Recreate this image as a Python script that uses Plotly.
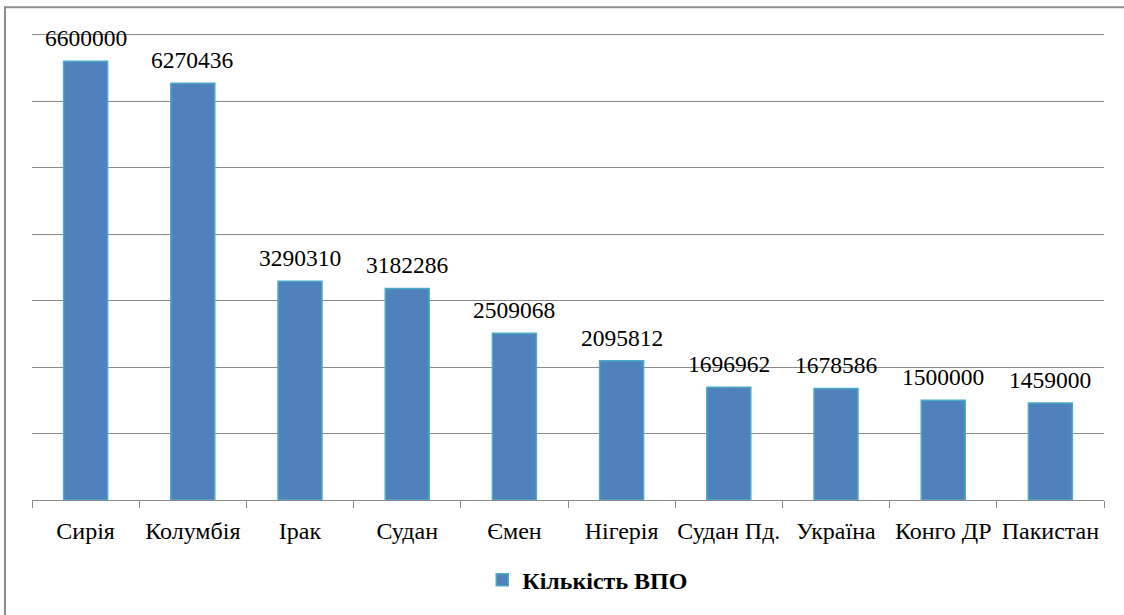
import plotly.graph_objects as go

# Internally displaced persons by country
countries = ["Сирія", "Колумбія", "Ірак", "Судан", "Ємен", "Нігерія",
             "Судан Пд.", "Україна", "Конго ДР", "Пакистан"]
idp_counts = [6600000, 6270436, 3290310, 3182286, 2509068, 2095812,
              1696962, 1678586, 1500000, 1459000]
series_name = "Кількість ВПО"

FONT = "Liberation Serif"
GRID = "#8a8a8a"

fig = go.Figure()
fig.add_trace(go.Bar(
    x=countries,
    y=idp_counts,
    name=series_name,
    width=0.41,
    marker=dict(color="#4F81BD", line=dict(color="#4BACC6", width=1.5)),
))

# value labels above each bar
for c, v in zip(countries, idp_counts):
    fig.add_annotation(
        x=c, y=v, text=str(v), showarrow=False,
        yanchor="bottom", yshift=8,
        font=dict(family=FONT, size=23.5, color="black"),
    )

# outer chart frame
fig.add_shape(
    type="rect", xref="paper", yref="paper",
    x0=-0.0252, x1=1.2, y0=-0.5, y1=1.0441,
    line=dict(color="#8c8c8c", width=2), layer="below",
)

fig.update_layout(
    width=1124, height=615,
    margin=dict(l=32, r=20, t=28, b=111, pad=0),
    paper_bgcolor="white", plot_bgcolor="white",
    font=dict(family=FONT, size=24, color="black"),
    showlegend=True,
    legend=dict(
        orientation="h", x=0.42, xanchor="left", y=-0.170, yanchor="middle",
        font=dict(family=FONT, size=24, color="black", weight="bold"),
        bgcolor="rgba(0,0,0,0)",
    ),
    xaxis=dict(
        showline=True, linecolor=GRID, linewidth=1,
        ticks="outside", tickson="boundaries", ticklen=7,
        tickcolor=GRID, tickwidth=1,
        showgrid=False, zeroline=False,
        tickangle=0,
        ticklabelstandoff=9,
        tickfont=dict(family=FONT, size=24, color="black"),
    ),
    yaxis=dict(
        range=[0, 7100000], dtick=1000000, tick0=0,
        showticklabels=False, showgrid=True, gridcolor=GRID, gridwidth=1,
        zeroline=False, showline=False, ticks="",
    ),
    bargap=0.59,
)

fig.write_html("out.html")
